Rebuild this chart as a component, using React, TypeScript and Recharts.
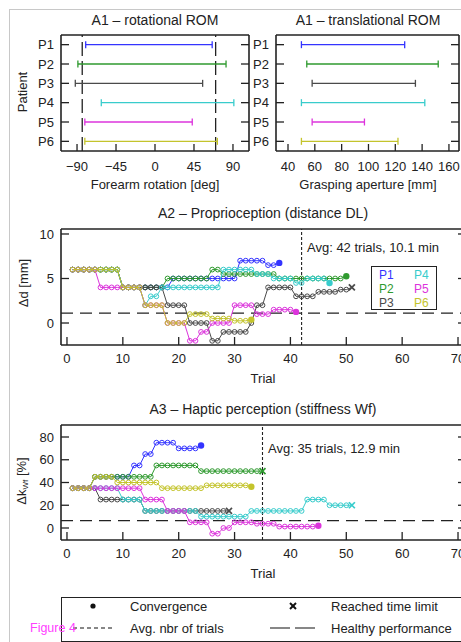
import React from "react";
import { ScatterChart, Scatter, XAxis, YAxis, ReferenceLine } from "recharts";

const FONT = '"Liberation Sans", Arial, Helvetica, sans-serif';
const INK = "#222222";

const patients = ["P1", "P2", "P3", "P4", "P5", "P6"];
const patientRows = [1, 2, 3, 4, 5, 6];
const patientColors = ["#3434ff", "#2f9a2f", "#4a4a4a", "#38cccc", "#dc34dc", "#c4c42c"];

// A1 - range of motion
const rotationMin = [-80, -89, -92, -62, -81, -81];
const rotationMax = [66, 82, 55, 91, 43, 72];
const rotationHealthy = [-84, 70];
const rotationTicks = [-90, -45, 0, 45, 90];

const apertureMin = [50, 54, 58, 50, 58, 50];
const apertureMax = [127, 152, 135, 142, 97, 122];
const apertureTicks = [40, 60, 80, 100, 120, 140, 160];

const trialTicks = [0, 10, 20, 30, 40, 50, 60, 70];

// A2 - distance staircases, one value per trial
const distP1 = [6, 6, 6, 6, 6, 6, 6, 6, 6, 4, 4, 4, 4, 4, 4, 4, 4, 4, 5, 5, 5, 5, 5, 5, 5, 5, 5, 5, 5, 5, 7, 7, 7, 7, 7, 6.5, 6.5, 6.75];
const distP2 = [6, 6, 6, 6, 6, 6, 6, 6, 6, 4, 4, 4, 4, 4, 4, 4, 4, 5, 5, 5, 5, 5, 5, 5, 5, 6, 6, 5.5, 5.5, 5.5, 5.5, 5.5, 5.5, 5.5, 5.5, 5.5, 5.5, 5, 5, 5, 5, 5, 5, 5, 5, 5, 5, 5, 5, 5.25];
const distP3 = [6, 6, 6, 6, 6, 6, 6, 6, 6, 4, 4, 4, 4, 4, 4, 4, 4, 2, 2, 2, 2, 0, 0, 0, 0, -2, -2, -1, -1, -1, -1, -1, 0, 2, 2, 4, 4, 4, 4, 4, 3, 3, 3, 3, 3.5, 3.5, 3.5, 3.5, 3.75, 3.75, 4];
const distP4 = [6, 6, 6, 6, 6, 6, 6, 6, 6, 4, 4, 4, 4, 2, 3, 3, 4, 4, 4, 4, 4, 4, 4, 4, 4, 4, 4, 6, 6, 6, 6, 6, 6, 5.5, 5.5, 5.5, 5, 5, 5, 5, 4.5, 4.5, 5, 5, 5, 5, 4.5];
const distP5 = [6, 6, 6, 6, 6, 4, 4, 4, 4, 4, 4, 4, 4, 2, 2, 2, 2, 0, 0, 0, 0, -2, -2, -1, -1, 0, 0, 0, 0, 2, 2, 2, 2, 1, 1, 1, 1.5, 1.5, 1.5, 1.5, 1.25];
const distP6 = [6, 6, 6, 6, 6, 6, 6, 6, 6, 4, 4, 4, 4, 2, 2, 2, 2, 0, 0, 0, 0, 1, 1, 1, 1, 0.5, 0.5, 0.5, 0.5, 0.25, 0.25, 0.25, 0.375];
const distEnds = ["dot", "dot", "x", "dot", "dot", "dot"];
const distTicks = [0, 5, 10];
const distHealthy = 1.1;
const distAvgTrials = 42;

// A3 - stiffness staircases
const stiffP1 = [35, 35, 35, 35, 45, 45, 45, 45, 45, 45, 45, 55, 55, 65, 65, 75, 75, 75, 75, 70, 70, 70, 70, 72.5];
const stiffP2 = [35, 35, 35, 35, 45, 45, 45, 45, 45, 45, 45, 45, 45, 45, 45, 55, 55, 55, 55, 55, 55, 55, 55, 50, 50, 50, 50, 50, 50, 50, 50, 50, 50, 50, 50];
const stiffP3 = [35, 35, 35, 35, 35, 25, 25, 25, 25, 25, 25, 25, 25, 15, 15, 15, 15, 15, 15, 15, 15, 15, 15, 15, 15, 15, 15, 15, 15];
const stiffP4 = [35, 35, 35, 35, 35, 35, 35, 35, 35, 25, 25, 25, 25, 15, 15, 15, 15, 15, 15, 15, 15, 15, 15, 10, 10, 10, 10, 10, 10, 10, 10, 10, 15, 15, 15, 15, 15, 15, 15, 15, 15, 15, 25, 25, 25, 25, 20, 20, 20, 20, 20];
const stiffP5 = [35, 35, 35, 35, 35, 35, 35, 35, 35, 35, 35, 35, 35, 25, 25, 25, 25, 15, 15, 15, 15, 5, 5, 5, 5, -5, -5, 0, 0, 5, 5, 5, 5, 3.75, 3.75, 3.75, 3.75, 1.25, 1.25, 1.25, 1.25, 1.25, 1.25, 1.25, 2];
const stiffP6 = [35, 35, 35, 35, 45, 45, 45, 45, 40, 40, 40, 40, 40, 40, 40, 40, 35, 35, 35, 35, 35, 35, 35, 35, 37.5, 37.5, 37.5, 37.5, 37.5, 37.5, 37.5, 37.5, 36.25];
const stiffEnds = ["dot", "x", "x", "x", "dot", "dot"];
const stiffTicks = [0, 20, 40, 60, 80];
const stiffHealthy = 6.5;
const stiffAvgTrials = 35;

const distSeries = [distP1, distP2, distP3, distP4, distP5, distP6];
const stiffSeries = [stiffP1, stiffP2, stiffP3, stiffP4, stiffP5, stiffP6];

const W = 480;
const H = 642;

function trialPoints(values: number[], end: string) {
  return values.map((v, i) => ({ trial: i + 1, value: v, end: i === values.length - 1 ? end : "" }));
}

function stairShape(color: string) {
  return (props: any) => {
    const { cx, cy } = props;
    const end = props.payload?.end ?? props.end;
    if (end === "dot") return <circle cx={cx} cy={cy} r={3.2} fill={color} />;
    if (end === "x")
      return (
        <g stroke={color} strokeWidth={1.7}>
          <line x1={cx - 3} y1={cy - 3} x2={cx + 3} y2={cy + 3} />
          <line x1={cx - 3} y1={cy + 3} x2={cx + 3} y2={cy - 3} />
        </g>
      );
    return <circle cx={cx} cy={cy} r={2.4} fill="none" stroke={color} strokeWidth={1} />;
  };
}

function capShape(color: string) {
  return (props: any) => (
    <line x1={props.cx} y1={props.cy - 3.5} x2={props.cx} y2={props.cy + 3.5} stroke={color} strokeWidth={1.3} />
  );
}

const fmtNum = (v: number) => (v < 0 ? "\u2212" + Math.abs(v) : String(v));

// ticks point inwards, like the original plots
function bottomTick(len: number, off: number, fmt: (v: any) => string = fmtNum) {
  return (p: any) => (
    <g>
      <line x1={p.x} y1={p.y} x2={p.x} y2={p.y - len} stroke={INK} strokeWidth={1.3} />
      <text x={p.x} y={p.y + off} textAnchor="middle" fontSize={13} fill={INK}>
        {fmt(p.payload.value)}
      </text>
    </g>
  );
}
function topTick(len: number) {
  return (p: any) => <line x1={p.x} y1={p.y} x2={p.x} y2={p.y + len} stroke={INK} strokeWidth={1.3} />;
}
function leftTick(len: number, gap: number, fmt: (v: any) => string = fmtNum) {
  return (p: any) => (
    <g>
      <line x1={p.x} y1={p.y} x2={p.x + len} y2={p.y} stroke={INK} strokeWidth={1.3} />
      <text x={p.x - gap} y={p.y + 4.6} textAnchor="end" fontSize={13} fill={INK}>
        {fmt(p.payload.value)}
      </text>
    </g>
  );
}
function rightTick(len: number) {
  return (p: any) => <line x1={p.x} y1={p.y} x2={p.x - len} y2={p.y} stroke={INK} strokeWidth={1.3} />;
}

const axisLine = { stroke: INK, strokeWidth: 1.6 };
const axisBase = { tickSize: 0, tickMargin: 0, tickLine: false, axisLine, allowDataOverflow: true, interval: 0 as const };

// plot box given in page pixels; axes take 1px each so they are drawn
function boxMargin(left: number, right: number, top: number, bottom: number) {
  return { left: left - 1, right: W - right - 1, top: top - 1, bottom: H - bottom - 1 };
}

type RangeProps = {
  left: number;
  right: number;
  domain: number[];
  ticks: number[];
  mins: number[];
  maxs: number[];
  healthy: number[];
};

function RangePanel({ left, right, domain, ticks, mins, maxs, healthy }: RangeProps) {
  return (
    <div style={{ position: "absolute", left: 0, top: 0 }}>
      <ScatterChart width={W} height={H} margin={boxMargin(left, right, 35, 151)}>
        <XAxis xAxisId={0} dataKey="pos" type="number" domain={domain} ticks={ticks} height={1} {...axisBase} tick={bottomTick(7, 19.5)} />
        <XAxis xAxisId="top" orientation="top" type="number" domain={domain} ticks={ticks} height={1} {...axisBase} tick={topTick(7)} />
        <YAxis
          yAxisId={0}
          dataKey="row"
          type="number"
          reversed
          domain={[0.5, 6.5]}
          ticks={patientRows}
          width={1}
          {...axisBase}
          tick={leftTick(8, 7, (v) => patients[v - 1])}
        />
        <YAxis yAxisId="right" orientation="right" type="number" reversed domain={[0.5, 6.5]} ticks={patientRows} width={1} {...axisBase} tick={rightTick(8)} />
        {healthy.map((h) => (
          <ReferenceLine key={h} x={h} stroke={INK} strokeWidth={1.3} strokeDasharray="14 5" />
        ))}
        {patients.map((p, i) => (
          <Scatter
            key={p}
            data={[
              { pos: mins[i], row: i + 1 },
              { pos: maxs[i], row: i + 1 },
            ]}
            line={{ stroke: patientColors[i], strokeWidth: 1.3 }}
            shape={capShape(patientColors[i])}
            isAnimationActive={false}
          />
        ))}
      </ScatterChart>
    </div>
  );
}

type StairProps = {
  top: number;
  bottom: number;
  yDomain: number[];
  yTicks: number[];
  series: number[][];
  ends: string[];
  healthy: number;
  avg: number;
};

function StairPanel({ top, bottom, yDomain, yTicks, series, ends, healthy, avg }: StairProps) {
  const xDomain = [-1.07, 71.43];
  return (
    <div style={{ position: "absolute", left: 0, top: 0 }}>
      <ScatterChart width={W} height={H} margin={boxMargin(61, 466, top, bottom)}>
        <XAxis xAxisId={0} dataKey="trial" type="number" domain={xDomain} ticks={trialTicks} height={1} {...axisBase} tick={bottomTick(8, 17.8)} />
        <XAxis xAxisId="top" orientation="top" type="number" domain={xDomain} ticks={trialTicks} height={1} {...axisBase} tick={topTick(8)} />
        <YAxis yAxisId={0} dataKey="value" type="number" domain={yDomain} ticks={yTicks} width={1} {...axisBase} tick={leftTick(8, 7)} />
        <YAxis yAxisId="right" orientation="right" type="number" domain={yDomain} ticks={yTicks} width={1} {...axisBase} tick={rightTick(8)} />
        <ReferenceLine y={healthy} stroke={INK} strokeWidth={1.3} strokeDasharray="12 7" />
        <ReferenceLine x={avg} stroke={INK} strokeWidth={1.1} strokeDasharray="3 2" />
        {series.map((vals, i) => (
          <Scatter
            key={patients[i]}
            data={trialPoints(vals, ends[i])}
            line={{ stroke: patientColors[i], strokeWidth: 1 }}
            shape={stairShape(patientColors[i])}
            isAnimationActive={false}
          />
        ))}
      </ScatterChart>
    </div>
  );
}

function Txt({ x, y, size = 13, anchor = "middle", rotate = false, color = INK, children }: any) {
  const tx = anchor === "middle" ? "-50%" : anchor === "end" ? "-100%" : "0";
  return (
    <div
      style={{
        position: "absolute",
        left: x,
        top: y,
        transform: `translate(${tx}, -50%)${rotate ? " rotate(-90deg)" : ""}`,
        fontSize: size,
        lineHeight: 1,
        whiteSpace: "nowrap",
        color,
      }}
    >
      {children}
    </div>
  );
}

export default function App() {
  return (
    <div
      style={{
        position: "fixed",
        left: 0,
        top: 0,
        width: 461,
        height: 642,
        overflow: "hidden",
        background: "#fff",
        fontFamily: FONT,
        color: INK,
      }}
    >
      <div style={{ position: "absolute", left: 9, top: 9, width: 470, height: 650, borderTop: "1.5px solid #c8c8c8", borderLeft: "1.5px solid #c8c8c8" }} />

      <RangePanel left={61} right={249} domain={[-108.5, 108.5]} ticks={rotationTicks} mins={rotationMin} maxs={rotationMax} healthy={rotationHealthy} />
      <RangePanel left={276} right={459} domain={[31.05, 167.5]} ticks={apertureTicks} mins={apertureMin} maxs={apertureMax} healthy={[]} />
      <StairPanel top={229} bottom={345} yDomain={[-2.47, 10.56]} yTicks={distTicks} series={distSeries} ends={distEnds} healthy={distHealthy} avg={distAvgTrials} />
      <StairPanel top={425} bottom={540} yDomain={[-10.55, 90.55]} yTicks={stiffTicks} series={stiffSeries} ends={stiffEnds} healthy={stiffHealthy} avg={stiffAvgTrials} />

      <Txt x={155} y={20} size={14}>A1 – rotational ROM</Txt>
      <Txt x={368} y={20} size={14}>A1 – translational ROM</Txt>
      <Txt x={155} y={184}>Forearm rotation [deg]</Txt>
      <Txt x={368} y={184}>Grasping aperture [mm]</Txt>
      <Txt x={22} y={92} rotate>Patient</Txt>

      <Txt x={263} y={213} size={14}>A2 – Proprioception (distance DL)</Txt>
      <Txt x={263} y={378}>Trial</Txt>
      <Txt x={23} y={283} rotate>Δd [mm]</Txt>
      <Txt x={307} y={247} anchor="start">Avg: {distAvgTrials} trials, 10.1 min</Txt>
      <div
        style={{
          position: "absolute",
          left: 371,
          top: 266,
          width: 64,
          height: 42,
          border: `1.5px solid ${INK}`,
          background: "#fff",
          fontSize: 12,
          lineHeight: "12px",
        }}
      >
        {[0, 1, 2].map((r) => (
          <div key={r} style={{ position: "absolute", top: 2 + r * 14, left: 7, width: 60, height: 12 }}>
            <span style={{ color: patientColors[r], position: "absolute", left: 0 }}>{patients[r]}</span>
            <span style={{ color: patientColors[r + 3], position: "absolute", left: 35 }}>{patients[r + 3]}</span>
          </div>
        ))}
      </div>

      <Txt x={263} y={409} size={14}>A3 – Haptic perception (stiffness Wf)</Txt>
      <Txt x={263} y={573}>Trial</Txt>
      <Txt x={22} y={481} rotate>
        <span>
          Δk<sub style={{ fontSize: 8, verticalAlign: "-2px" }}>Wf</sub> [%]
        </span>
      </Txt>
      <Txt x={268} y={448} anchor="start">Avg: {stiffAvgTrials} trials, 12.9 min</Txt>

      <div style={{ position: "absolute", left: 61, top: 597, width: 410, height: 43, border: `1.5px solid ${INK}` }} />
      <svg style={{ position: "absolute", left: 0, top: 590 }} width={461} height={52}>
        <circle cx={93} cy={16} r={2.6} fill="#111" />
        <g stroke="#111" strokeWidth={2}>
          <line x1={290} y1={13} x2={296} y2={19} />
          <line x1={290} y1={19} x2={296} y2={13} />
        </g>
        <line x1={73} y1={38} x2={115} y2={38} stroke="#111" strokeWidth={1.2} strokeDasharray="4 3" />
        <line x1={270} y1={38} x2={315} y2={38} stroke="#111" strokeWidth={1.2} strokeDasharray="20 5" />
      </svg>
      <Txt x={130} y={606} anchor="start">Convergence</Txt>
      <Txt x={331} y={606} anchor="start">Reached time limit</Txt>
      <Txt x={130} y={628} anchor="start">Avg. nbr of trials</Txt>
      <Txt x={331} y={628} anchor="start">Healthy performance</Txt>
      <Txt x={30} y={628} anchor="start" size={12.5} color="#ff40ff">Figure 4</Txt>
    </div>
  );
}
